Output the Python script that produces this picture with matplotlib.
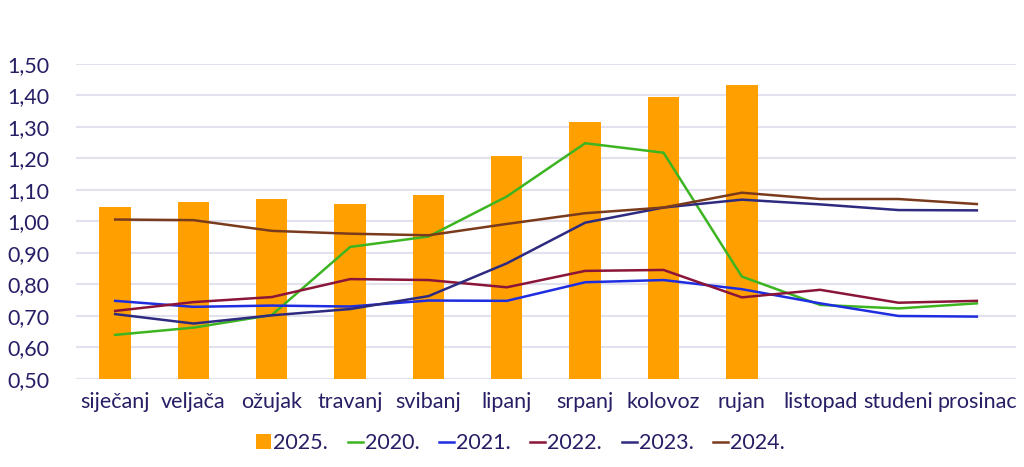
import matplotlib
matplotlib.use("Agg")
import matplotlib.pyplot as plt
from matplotlib.ticker import FuncFormatter, MultipleLocator
import numpy as np

months = ["siječanj", "veljača", "ožujak", "travanj", "svibanj", "lipanj",
          "srpanj", "kolovoz", "rujan", "listopad", "studeni", "prosinac"]

bars_2025 = [1.046, 1.062, 1.071, 1.056, 1.084, 1.208, 1.316, 1.395, 1.433]

y2020 = [0.640, 0.663, 0.703, 0.919, 0.952, 1.079, 1.248, 1.218, 0.825, 0.735, 0.724, 0.740]
y2021 = [0.748, 0.729, 0.733, 0.730, 0.749, 0.748, 0.807, 0.814, 0.785, 0.740, 0.700, 0.698]
y2022 = [0.716, 0.744, 0.760, 0.817, 0.814, 0.791, 0.843, 0.846, 0.759, 0.783, 0.742, 0.748]
y2023 = [0.706, 0.676, 0.702, 0.722, 0.763, 0.867, 0.996, 1.044, 1.069, 1.054, 1.036, 1.035]
y2024 = [1.006, 1.004, 0.970, 0.961, 0.956, 0.992, 1.026, 1.044, 1.091, 1.071, 1.071, 1.055]

TEXT = "#271f66"

plt.rcParams["font.family"] = ["Lato", "DejaVu Sans"]

fig = plt.figure(figsize=(10.24, 4.67), dpi=100)
ax = fig.add_axes([0.0742, 0.1884, 0.918, 0.675])

x = np.arange(len(months))
bar = ax.bar(x[:len(bars_2025)], bars_2025, width=0.4, color="#ffa000",
             label="2025.", zorder=2)

lines = [
    (y2020, "#3cb521", "2020."),
    (y2021, "#1f2de0", "2021."),
    (y2022, "#8a1538", "2022."),
    (y2023, "#2e2a80", "2023."),
    (y2024, "#7a3b1c", "2024."),
]
handles = [bar]
for vals, col, lab in lines:
    h, = ax.plot(x, vals, color=col, lw=1.8, label=lab, zorder=3)
    handles.append(h)

ax.set_xlim(-0.5, len(months) - 0.5)
ax.set_ylim(0.5, 1.5)
ax.yaxis.set_major_locator(MultipleLocator(0.1))
ax.yaxis.set_major_formatter(FuncFormatter(lambda v, _: f"{v:.2f}".replace(".", ",")))
ax.set_xticks(x)
ax.set_xticklabels(months)
ax.tick_params(axis="both", length=0, labelsize=15.5, labelcolor=TEXT)
ax.tick_params(axis="y", pad=19)
ax.tick_params(axis="x", pad=9)
ax.grid(axis="y", color="#e2e2ef", lw=1.5, zorder=0)
ax.set_axisbelow(True)
for s in ax.spines.values():
    s.set_visible(False)

ax.legend(handles=handles, loc="upper center", bbox_to_anchor=(0.473, -0.11), ncol=6,
          frameon=False, fontsize=15.5, handlelength=0.7, handleheight=0.7,
          handletextpad=0.1, columnspacing=0.9, labelcolor=TEXT)

fig.savefig("out.png", dpi=100)
